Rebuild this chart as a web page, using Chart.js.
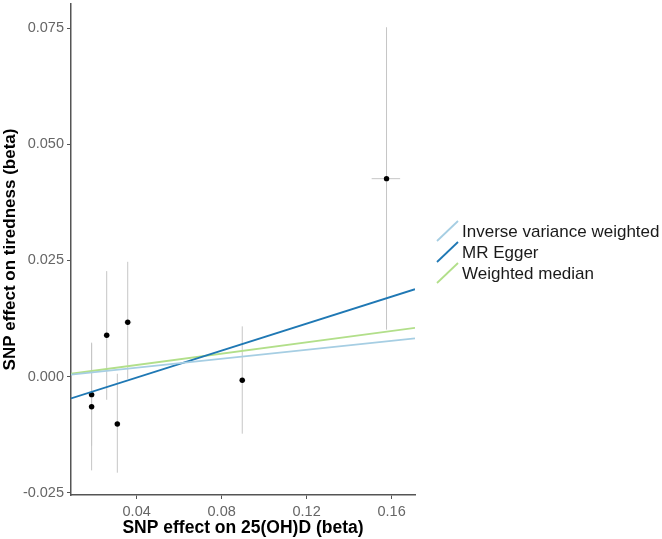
<!DOCTYPE html>
<html>
<head>
<meta charset="utf-8">
<script src="https://cdn.jsdelivr.net/npm/chart.js@4.4.1/dist/chart.umd.min.js"></script>
<style>
  html, body { margin: 0; padding: 0; background: #fff; }
  canvas { display: block; }
</style>
</head>
<body>
<canvas id="chart" width="662" height="539"></canvas>
<script>
// SNP estimates (x: effect on 25(OH)D, y: effect on tiredness)
const snpX    = [0.0188, 0.0188, 0.0259, 0.0309, 0.0358, 0.0897, 0.1576];
const snpY    = [-0.0039, -0.0065, 0.0089, -0.0102, 0.0117, -0.0008, 0.0426];
const snpYLo  = [-0.0149, -0.0202, -0.0050, -0.0207, -0.0005, -0.0123, 0.0101];
const snpYHi  = [0.0071, 0.0073, 0.0227, 0.0006, 0.0247, 0.0108, 0.0752];
const snpXLo  = [0.0173, 0.0173, 0.0244, 0.0294, 0.0341, 0.0882, 0.1506];
const snpXHi  = [0.0203, 0.0203, 0.0274, 0.0324, 0.0375, 0.0912, 0.1640];

// MR estimate lines, read at the panel's left and right edges
const methods = ['Inverse variance weighted', 'MR Egger', 'Weighted median'];
const methodColors = ['#a6cee3', '#1f78b4', '#b2df8a'];
const lineX   = [0.0091, 0.171];
const ivwY    = [0.0004, 0.0082];
const eggerY  = [-0.0047, 0.0188];
const wmY     = [0.0006, 0.0105];

// Axes
const xTicks = [0.04, 0.08, 0.12, 0.16];
const yTicks = [-0.025, 0, 0.025, 0.05, 0.075];
const xRange = [0.0091, 0.171];
const yRange = [-0.0255, 0.0802];

const FONT = "'Liberation Sans', Arial, sans-serif";

// build segment lists with gaps between error bars
function vBars() {
  const out = [];
  snpX.forEach((x, i) => {
    out.push({ x: x, y: snpYLo[i] }, { x: x, y: snpYHi[i] }, { x: x, y: null });
  });
  return out;
}
function hBars() {
  const out = [];
  snpY.forEach((y, i) => {
    out.push({ x: snpXLo[i], y: y }, { x: snpXHi[i], y: y }, { x: null, y: null });
  });
  return out;
}

const lineSets = [ivwY, eggerY, wmY].map((ys, i) => ({
  label: methods[i],
  data: lineX.map((x, j) => ({ x: x, y: ys[j] })),
  showLine: true,
  borderColor: methodColors[i],
  borderWidth: 1.8,
  pointRadius: 0,
  order: 0
}));

const errStyle = { showLine: true, borderColor: '#c6c6c6', borderWidth: 1, pointRadius: 0, spanGaps: false, order: 2 };

// legend drawn to the right of the panel, ggplot style with slanted keys
const sideLegend = {
  id: 'sideLegend',
  afterDraw(c) {
    const ctx = c.ctx;
    const x0 = c.chartArea.right + 22;
    ctx.save();
    ctx.font = '17px ' + FONT;
    ctx.fillStyle = '#1a1a1a';
    ctx.textBaseline = 'middle';
    methods.forEach((m, i) => {
      const cy = 232 + i * 21;
      ctx.strokeStyle = methodColors[i];
      ctx.lineWidth = 1.8;
      ctx.beginPath();
      ctx.moveTo(x0, cy + 9);
      ctx.lineTo(x0 + 21, cy - 11);
      ctx.stroke();
      ctx.fillText(m, x0 + 25, cy);
    });
    ctx.restore();
  }
};

chart = new Chart(document.getElementById('chart').getContext('2d'), {
  type: 'scatter',
  data: {
    datasets: [
      ...lineSets,
      { label: 'SNPs', data: snpX.map((x, i) => ({ x: x, y: snpY[i] })),
        pointRadius: 2.7, pointBackgroundColor: '#000', pointBorderWidth: 0, order: 1 },
      Object.assign({ label: 'vbar', data: vBars() }, errStyle),
      Object.assign({ label: 'hbar', data: hBars() }, errStyle)
    ]
  },
  options: {
    responsive: false,
    animation: false,
    devicePixelRatio: 1,
    layout: { padding: { top: 0, left: 0, bottom: 0, right: 247 } },
    plugins: { legend: { display: false }, tooltip: { enabled: false } },
    scales: {
      x: {
        type: 'linear', min: xRange[0], max: xRange[1],
        afterBuildTicks: s => { s.ticks = xTicks.map(v => ({ value: v })); },
        afterFit: s => { s.height = 44; s.paddingLeft = 0; s.paddingRight = 0; },
        ticks: { callback: v => v.toFixed(2), color: '#666', font: { family: FONT, size: 14.5 },
                 padding: 4, maxRotation: 0, autoSkip: false },
        grid: { display: true, drawOnChartArea: false, drawTicks: true, tickLength: 4, color: '#555' },
        border: { display: true, color: '#555', width: 1.5 },
        title: { display: true, text: 'SNP effect on 25(OH)D (beta)', color: '#000',
                 font: { family: FONT, size: 17.5, weight: 'bold' }, padding: 0 }
      },
      y: {
        type: 'linear', min: yRange[0], max: yRange[1],
        afterBuildTicks: s => { s.ticks = yTicks.map(v => ({ value: v })); },
        afterFit: s => { s.width = 71; s.paddingTop = 0; s.paddingBottom = 0; },
        ticks: { callback: v => v.toFixed(3), color: '#666', font: { family: FONT, size: 14.5 },
                 padding: 3, autoSkip: false },
        grid: { display: true, drawOnChartArea: false, drawTicks: true, tickLength: 4, color: '#555' },
        border: { display: true, color: '#555', width: 1.5 },
        title: { display: true, text: 'SNP effect on tiredness (beta)', color: '#000',
                 font: { family: FONT, size: 17, weight: 'bold' }, padding: 0 }
      }
    }
  },
  plugins: [sideLegend]
});
</script>
</body>
</html>
